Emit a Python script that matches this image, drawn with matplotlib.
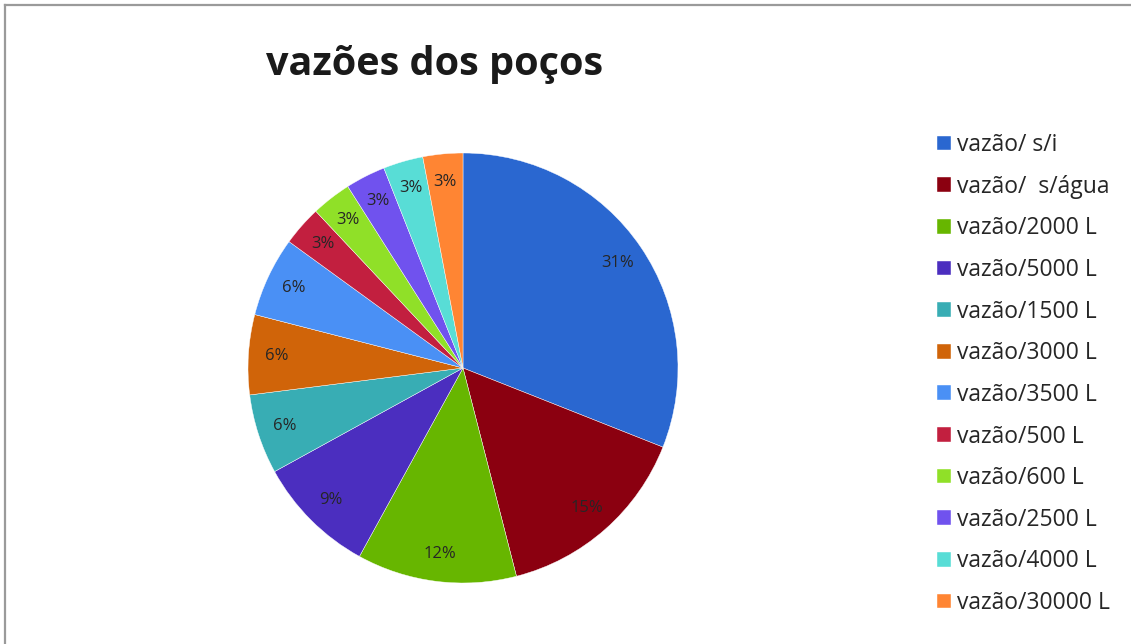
import matplotlib.pyplot as plt
from matplotlib.lines import Line2D

plt.rcParams['font.family'] = ['Open Sans', 'DejaVu Sans']

# dados do gráfico
categorias = ['vazão/ s/i', 'vazão/  s/água', 'vazão/2000 L', 'vazão/5000 L',
              'vazão/1500 L', 'vazão/3000 L', 'vazão/3500 L', 'vazão/500 L',
              'vazão/600 L', 'vazão/2500 L', 'vazão/4000 L', 'vazão/30000 L']
percentuais = [31, 15, 12, 9, 6, 6, 6, 3, 3, 3, 3, 3]
cores = ['#2A67D0', '#8B0010', '#67B600', '#4B2EBF', '#38ADB4', '#D06409',
         '#4A90F5', '#C21F3F', '#90E028', '#7052EE', '#58DDD6', '#FF8533']

W, H = 1131, 644
fig = plt.figure(figsize=(W / 100, H / 100), dpi=100)

# eixo do pizza (centro ~ (463,368), raio ~215 px)
cx, cy, r = 463, 368, 215
ax = fig.add_axes([(cx - r) / W, 1 - (cy + r) / H, 2 * r / W, 2 * r / H])
fatias, textos, autotextos = ax.pie(percentuais, colors=cores, startangle=90,
                                    counterclock=False, autopct='%d%%',
                                    pctdistance=0.87,
                                    wedgeprops=dict(edgecolor='white', linewidth=0.3),
                                    textprops=dict(fontsize=12, color='#262626'))
ax.set_xlim(-1, 1)
ax.set_ylim(-1, 1)

# titulo
fig.text(435 / W, 1 - 64 / H, 'vazões dos poços', ha='center', va='center',
         fontsize=28.5, fontweight='bold', color='#1a1a1a')

# legenda
fs = 16.5
leg = fig.legend(fatias, categorias, loc='upper left',
                 bbox_to_anchor=(937 / W, 1 - 133 / H), frameon=False,
                 fontsize=fs, handlelength=0.61, handleheight=0.61,
                 handletextpad=0.26, labelspacing=0.77, borderpad=0,
                 borderaxespad=0)
for t in leg.get_texts():
    t.set_color('#262626')

# moldura (só topo e esquerda visíveis)
fig.add_artist(Line2D([5 / W, 1], [1 - 5 / H, 1 - 5 / H], color='#9a9a9a', lw=1.6,
                      transform=fig.transFigure))
fig.add_artist(Line2D([5 / W, 5 / W], [0, 1 - 5 / H], color='#9a9a9a', lw=1.6,
                      transform=fig.transFigure))

plt.savefig('out.png', dpi=100)
